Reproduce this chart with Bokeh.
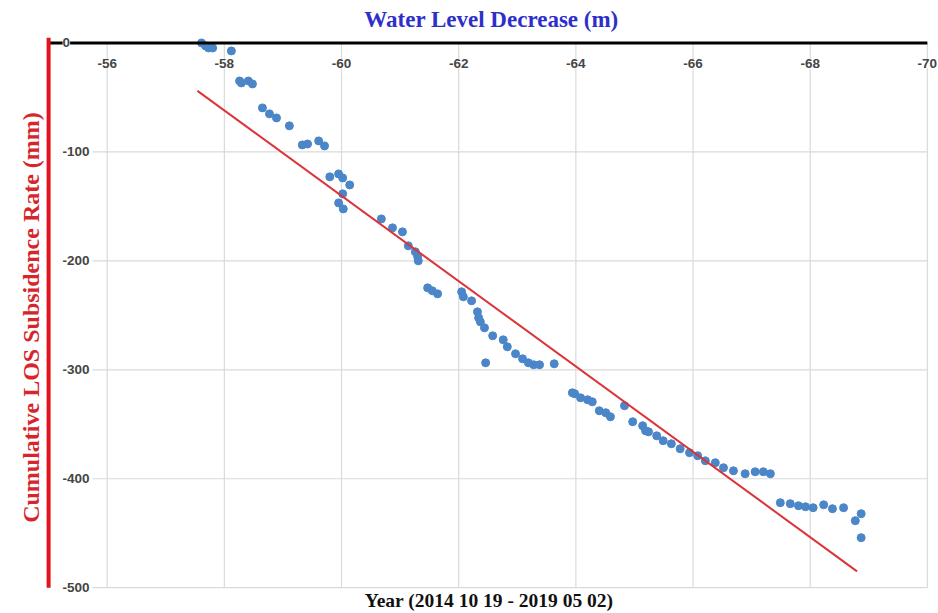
from bokeh.plotting import figure
from bokeh.models import Range1d, Label, LinearAxis, FixedTicker
from bokeh.embed import file_html
from bokeh.resources import INLINE

# Water level decrease (m) against cumulative LOS subsidence (mm)
water_level = [
    -57.61, -57.68, -57.73, -57.80, -58.12, -58.26, -58.29, -58.41, -58.48, -58.65,
    -58.77, -58.89, -59.11, -59.33, -59.42, -59.61, -59.71, -59.80, -59.95, -60.02,
    -60.14, -60.02, -59.95, -60.03, -60.68, -60.87, -61.04, -61.14, -61.26, -61.30,
    -61.31, -61.47, -61.55, -61.64, -62.05, -62.08, -62.22, -62.32, -62.34, -62.37,
    -62.44, -62.46, -62.58, -62.76, -62.83, -62.97, -63.09, -63.19, -63.28, -63.38,
    -63.63, -63.94, -63.98, -64.08, -64.20, -64.28, -64.40, -64.51, -64.59, -64.83,
    -64.97, -65.14, -65.19, -65.24, -65.38, -65.49, -65.63, -65.78, -65.94, -66.08,
    -66.21, -66.38, -66.52, -66.69, -66.89, -67.06, -67.20, -67.32, -67.49, -67.66,
    -67.80, -67.92, -68.05, -68.23, -68.38, -68.57, -68.77, -68.87, -68.87,
]
subsidence = [
    0.0, -2.8, -4.6, -4.6, -7.3, -34.9, -36.7, -34.9, -37.6, -59.6,
    -65.1, -68.8, -76.1, -93.6, -92.7, -89.9, -94.5, -122.9, -120.2, -123.9,
    -130.3, -138.5, -146.8, -152.3, -161.5, -169.7, -173.4, -186.2, -191.7, -196.3,
    -200.0, -224.8, -227.5, -230.3, -228.4, -233.0, -236.7, -246.8, -252.3, -256.0,
    -261.5, -293.6, -268.8, -272.5, -278.9, -285.3, -289.9, -293.6, -295.4, -295.4,
    -294.5, -321.1, -322.0, -325.7, -327.5, -329.4, -337.6, -339.4, -343.1, -333.0,
    -347.7, -351.4, -356.0, -356.9, -360.6, -365.1, -367.9, -372.5, -376.1, -378.9,
    -383.5, -385.3, -389.9, -392.7, -395.4, -393.6, -393.6, -395.4, -422.0, -422.9,
    -424.8, -425.7, -426.6, -423.9, -427.5, -426.6, -438.5, -432.1, -454.1,
]

# Linear trend line end points
fit_water = [-57.54, -68.80]
fit_subsidence = [-44.0, -485.0]

x_ticks = [-56, -58, -60, -62, -64, -66, -68, -70]
x_tick_labels = ["-56", "-58", "-60", "-62", "-64", "-66", "-68", "-70"]
y_ticks = [0, -100, -200, -300, -400, -500]
y_tick_labels = ["0", "-100", "-200", "-300", "-400", "-500"]

# Axis extents of the chart body; the plotting frame is a little larger so
# that the inner tick labels and the heavy axis lines are not cut off.
X_MIN, X_MAX = -55, -70
Y_MIN, Y_MAX = -500, 0
GRID_COLOR = "#dadada"
TICK_FONT = "Liberation Sans"
TICK_COLOR = "#454545"
SERIF = "Liberation Serif"

p = figure(
    width=938, height=613,
    x_range=Range1d(-54.93, -70.19), y_range=Range1d(-509, 5),
    x_axis_location=None, y_axis_location=None,
    output_backend="svg", toolbar_location=None,
    min_border_left=44, min_border_right=0, min_border_top=37, min_border_bottom=16,
)
p.outline_line_color = None
p.grid.visible = False
p.background_fill_color = "white"
p.border_fill_color = "white"


def title_axis(label, color, size, standoff):
    return LinearAxis(
        ticker=FixedTicker(ticks=[]),
        axis_label=label,
        axis_label_text_font=SERIF,
        axis_label_text_font_style="bold",
        axis_label_text_color=color,
        axis_label_text_font_size=size,
        axis_label_standoff=standoff,
        axis_line_color=None,
        major_tick_line_color=None, minor_tick_line_color=None,
        major_tick_in=0, major_tick_out=0, minor_tick_in=0, minor_tick_out=0,
        major_label_text_font_size="0px", major_label_standoff=0,
    )


p.add_layout(title_axis("Water Level Decrease (m)", "#2e2fc9", "23px", 6), "above")
p.add_layout(title_axis("Year  (2014 10 19 - 2019 05 02)", "#111111", "19.5px", -8), "below")
p.add_layout(title_axis("Cumulative LOS Subsidence Rate (mm)", "#d6262c", "24px", 1), "left")

# Grid lines drawn from the tick positions
p.segment(x0=x_ticks, y0=[Y_MAX] * len(x_ticks), x1=x_ticks, y1=[Y_MIN] * len(x_ticks),
          line_color=GRID_COLOR, line_width=1.2)
grid_y = y_ticks[1:]
p.segment(x0=[-55.75] * len(grid_y), y0=grid_y, x1=[X_MAX] * len(grid_y), y1=grid_y,
          line_color=GRID_COLOR, line_width=1.2)

# Observations and trend line
p.scatter(water_level, subsidence, size=8, fill_color="#4a86c8", line_color="#4a86c8")
p.line(fit_water, fit_subsidence, line_color="#dc3338", line_width=2)

# Heavy black zero line along the top and red vertical axis on the left
p.segment(x0=[X_MIN], y0=[Y_MAX], x1=[X_MAX], y1=[Y_MAX], line_color="black", line_width=3)
p.segment(x0=[X_MIN], y0=[5], x1=[X_MIN], y1=[Y_MIN], line_color="#e3141b", line_width=4)

# Tick labels sit inside the chart, below the top line and right of the left line
for xv, txt in zip(x_ticks, x_tick_labels):
    p.add_layout(Label(
        x=xv, y=Y_MAX, text=txt, y_offset=-21,
        text_align="center", text_baseline="middle",
        text_font=TICK_FONT, text_font_size="13.5px", text_font_style="bold",
        text_color=TICK_COLOR, background_fill_color="white",
    ))

for yv, txt in zip(y_ticks, y_tick_labels):
    p.add_layout(Label(
        x=X_MIN, y=yv, text=txt, x_offset=14,
        text_align="left", text_baseline="middle",
        text_font=TICK_FONT, text_font_size="13.5px", text_font_style="bold",
        text_color=TICK_COLOR, background_fill_color="white",
    ))

open("out.html", "w").write(file_html(p, INLINE))
